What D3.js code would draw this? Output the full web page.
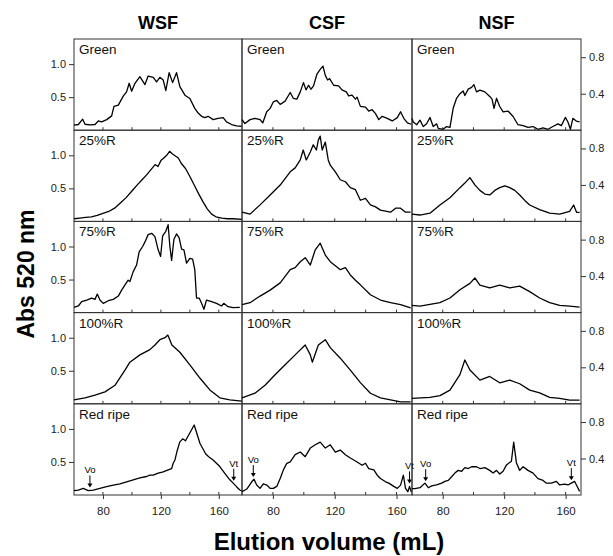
<!DOCTYPE html>
<html><head><meta charset="utf-8">
<script src="https://cdn.jsdelivr.net/npm/d3@7"></script>
<style>
body{margin:0;background:#fff;}
svg{font-family:"Liberation Sans",Arial,Helvetica,sans-serif;}
</style></head><body>
<svg id="chart" width="613" height="556"></svg>
<script>
// fractions (columns) and ripening stages (rows)
const fractions = ["WSF", "CSF", "NSF"];
const stages = ["Green", "25%R", "75%R", "100%R", "Red ripe"];
const leftTicks = [0.5, 1.0];
const rightTicks = [0.4, 0.8];
const volumeTicks = [80, 120, 160];
const minorTicks = [80, 100, 120, 140, 160];

// [elution volume mL, Abs 520]
const wsfGreen = [[60,0.076],[63,0.086],[66,0.167],[67.6,0.09],[71,0.08],[74.5,0.086],[76.8,0.14],[79.1,0.126],[82.6,0.16],[86,0.217],[87.6,0.36],[90.6,0.38],[94,0.515],[96.3,0.58],[98.1,0.71],[99.8,0.59],[102.1,0.71],[105.5,0.81],[109,0.69],[111.2,0.82],[114.7,0.8],[117,0.73],[119.3,0.8],[121.6,0.76],[123.4,0.6],[125.7,0.87],[128.1,0.72],[130.8,0.87],[133.1,0.66],[136.6,0.53],[140,0.48],[143.4,0.33],[145.7,0.26],[148.1,0.21],[150.3,0.19],[152.6,0.21],[156.1,0.16],[159.5,0.18],[163,0.19],[165.3,0.126],[168.8,0.086],[172.2,0.065],[175.7,0.06]];
const wsf25 = [[60,0.04],[64,0.05],[68,0.06],[72,0.07],[76,0.09],[80,0.12],[84,0.15],[88,0.2],[92,0.28],[96,0.36],[100,0.46],[104,0.56],[107,0.63],[110,0.7],[113,0.78],[116,0.86],[118,0.83],[120,0.92],[122,0.96],[124,1.0],[126,1.06],[128,1.02],[130,0.99],[132,0.96],[134,0.88],[137,0.8],[140,0.68],[143,0.55],[146,0.42],[149,0.3],[152,0.19],[155,0.11],[158,0.07],[162,0.05],[166,0.04],[170,0.04],[176,0.03]];
const wsf75 = [[60,0.08],[63,0.1],[65.3,0.165],[68.8,0.19],[72.2,0.22],[74.5,0.2],[76.1,0.28],[77.9,0.19],[80.2,0.14],[83.7,0.18],[87.1,0.2],[90.6,0.25],[92.9,0.34],[95.2,0.42],[97.4,0.49],[98.6,0.47],[100.9,0.62],[103.2,0.72],[105,0.92],[107.4,1.0],[109,1.07],[111.2,1.18],[113.6,1.2],[115.9,1.15],[118.1,0.95],[119.8,0.85],[121.2,1.16],[123.4,1.23],[125,1.33],[126.2,1.0],[127.4,0.79],[129,1.11],[130.8,1.19],[132.6,1.13],[134.3,0.96],[135.9,0.95],[137.7,0.75],[140,0.82],[141.9,0.81],[143.4,0.65],[144.6,0.22],[146.4,0.22],[148.1,0.14],[149.7,0.05],[151.5,0.19],[155,0.165],[158.4,0.14],[161.9,0.1],[163.4,0.14],[166.4,0.09],[169.9,0.075],[174.5,0.08]];
const wsf100 = [[60,0.06],[67.6,0.09],[74.5,0.13],[81.4,0.18],[88.3,0.28],[95.2,0.51],[98.6,0.63],[105.5,0.74],[112.4,0.82],[115.9,0.89],[119.3,0.97],[122.8,1.0],[124.8,1.04],[127.6,0.89],[133.1,0.78],[140,0.59],[146.9,0.39],[153.8,0.21],[160.7,0.09],[167.6,0.06],[175.9,0.04]];
const wsfRed = [[60,0.065],[63,0.075],[66.4,0.1],[69.8,0.065],[73.3,0.075],[77.9,0.1],[82.5,0.126],[87.1,0.15],[91.7,0.167],[96.3,0.2],[100.9,0.23],[105.5,0.26],[110.1,0.28],[112.4,0.3],[114.7,0.3],[118.1,0.33],[121.6,0.35],[125,0.38],[127.4,0.4],[128.5,0.48],[129.7,0.53],[131,0.65],[133,0.8],[135,0.85],[137,0.82],[139,0.9],[141,0.98],[143,1.06],[145,0.92],[147,0.78],[149,0.7],[151,0.62],[153,0.58],[156,0.53],[160.7,0.43],[164,0.33],[167.6,0.23],[169.9,0.18],[172.2,0.126],[174.5,0.076],[176,0.06]];

const csfGreen = [[60,0.16],[61.9,0.1],[65.2,0.16],[68.4,0.18],[71.7,0.16],[73.4,0.11],[76,0.28],[78.2,0.33],[80.3,0.43],[82.5,0.45],[84.7,0.39],[87.9,0.44],[91.2,0.57],[93.3,0.48],[95.5,0.47],[97.7,0.58],[99.8,0.72],[101.4,0.61],[103.1,0.68],[104.6,0.62],[106.3,0.67],[108.5,0.85],[110.6,0.92],[112.4,0.97],[113.9,0.83],[115.4,0.76],[116.7,0.78],[119.3,0.68],[122.5,0.67],[124.7,0.61],[127.5,0.58],[129,0.52],[131.2,0.53],[133.4,0.47],[134.5,0.5],[136.6,0.36],[139.9,0.35],[142,0.29],[144.2,0.31],[146.4,0.25],[148.5,0.16],[150.7,0.21],[154,0.18],[157.2,0.14],[160.5,0.19],[162.6,0.28],[164.7,0.18],[167,0.11],[169.5,0.09]];
const csf25 = [[60,0.14],[65.2,0.11],[71.7,0.25],[78.2,0.4],[84.7,0.55],[91.2,0.75],[94.4,0.81],[97.7,0.93],[99.6,1.08],[101.6,0.93],[104.2,1.05],[106.1,1.16],[108.1,1.08],[109.4,1.23],[110.6,1.29],[111.9,1.08],[113.9,1.2],[115.8,0.93],[117.1,0.85],[120.4,0.75],[123.6,0.63],[126.9,0.6],[130.1,0.51],[133.4,0.48],[136.6,0.32],[139.9,0.35],[143.1,0.25],[146.4,0.22],[149.6,0.17],[156.1,0.14],[159.4,0.2],[162.6,0.2],[165.8,0.14],[169.1,0.14]];
const csf75 = [[60,0.12],[65.2,0.15],[71.7,0.25],[78.2,0.34],[84.7,0.45],[91.2,0.65],[94.4,0.68],[97.7,0.77],[100.9,0.83],[104.2,0.72],[107.4,0.95],[110.6,1.05],[113.9,0.87],[117.1,0.77],[120.4,0.71],[123.6,0.65],[126.9,0.68],[130.1,0.57],[133.4,0.49],[136.6,0.42],[143.1,0.27],[149.6,0.19],[156.1,0.15],[162.6,0.12],[169.1,0.07]];
const csf100 = [[60,0.09],[68.4,0.16],[74.9,0.28],[81.4,0.44],[87.9,0.59],[94.4,0.74],[100.9,0.89],[104.2,0.74],[105.5,0.63],[109.4,0.89],[113.9,0.97],[117.1,0.85],[123.6,0.69],[130.1,0.51],[136.6,0.32],[143.1,0.16],[149.6,0.09],[156.1,0.06],[162.6,0.03],[169.1,0.03]];
const csfRed = [[60,0.05],[63.1,0.09],[66.3,0.2],[67.8,0.24],[69.5,0.15],[71.7,0.1],[73.8,0.17],[76,0.15],[78.2,0.1],[80.3,0.1],[82.5,0.13],[84.7,0.25],[86.8,0.38],[89,0.48],[91.2,0.5],[94.4,0.61],[97.7,0.65],[100.9,0.58],[104.2,0.71],[107.4,0.76],[110.6,0.8],[113.9,0.71],[117.1,0.76],[120.4,0.65],[123.6,0.68],[126.9,0.61],[130.1,0.56],[134.5,0.5],[137.7,0.45],[139.9,0.48],[142,0.4],[145.3,0.38],[147.5,0.3],[149.6,0.25],[152.9,0.2],[155,0.18],[158.2,0.13],[160.5,0.1],[162.6,0.15],[164.4,0.3],[165.8,0.1],[167.3,0.05],[168.4,0.13],[169.5,0.05]];

const nsfGreen = [[60,0.13],[60.8,0.09],[63.1,0.06],[65.2,0.11],[67.3,0.04],[69.5,0.07],[71.7,0.14],[73.8,0.04],[76,0.07],[77.1,0.02],[80.3,0.01],[82.5,0.04],[84.7,0.03],[86.8,0.24],[89,0.35],[91.2,0.4],[93.3,0.43],[94.4,0.38],[96.6,0.45],[98.8,0.47],[100.3,0.5],[102,0.42],[104.2,0.44],[107.4,0.42],[110.6,0.37],[112.1,0.34],[113.4,0.24],[115,0.35],[117.1,0.26],[119.3,0.2],[122.5,0.21],[125.8,0.15],[129,0.06],[132.3,0.05],[135.5,0.03],[138.8,0.04],[142,0.01],[145.3,0.025],[148.5,0.01],[151.7,0.04],[155,0.07],[157.2,0.05],[159.8,0.14],[161.5,0.09],[163.1,0.01],[164.7,0.13],[166.9,0.1],[169.1,0.09]];
const nsf25 = [[60,0.08],[65.2,0.07],[71.7,0.09],[78.2,0.18],[84.7,0.26],[91.2,0.37],[94.4,0.42],[97.7,0.48],[100.9,0.4],[104.2,0.34],[107.4,0.3],[110.6,0.29],[113.9,0.34],[117.1,0.37],[120.4,0.39],[123.6,0.37],[126.9,0.34],[130.1,0.29],[133.4,0.23],[136.6,0.18],[143.1,0.13],[149.6,0.09],[156.1,0.08],[162.6,0.11],[165.2,0.18],[167.1,0.1],[169.1,0.1]];
const nsf75 = [[60,0.08],[65.2,0.07],[71.7,0.09],[78.2,0.11],[84.7,0.16],[91.2,0.25],[97.7,0.32],[100.9,0.38],[104.2,0.3],[110.6,0.27],[117.1,0.3],[123.6,0.27],[130.1,0.29],[136.6,0.23],[143.1,0.16],[149.6,0.11],[156.1,0.08],[162.6,0.07],[169.1,0.06]];
const nsf100 = [[60,0.06],[71.7,0.07],[78.2,0.09],[84.7,0.15],[91.2,0.32],[94.4,0.48],[97.7,0.37],[104.2,0.26],[110.6,0.3],[117.1,0.23],[123.6,0.26],[130.1,0.22],[136.6,0.15],[143.1,0.12],[149.6,0.07],[156.1,0.06],[162.6,0.04],[169.1,0.04]];
const nsfRed = [[60,0.07],[61.9,0.07],[65.2,0.08],[68.4,0.13],[70.6,0.08],[72.8,0.1],[76,0.11],[79.3,0.13],[81.4,0.15],[83.6,0.16],[85.8,0.2],[87.9,0.24],[90.1,0.27],[92.3,0.26],[94.4,0.3],[96.6,0.29],[98.8,0.31],[102,0.31],[104.2,0.29],[107.4,0.3],[110.6,0.27],[112.8,0.24],[115,0.27],[117.1,0.23],[119.3,0.26],[121.5,0.33],[124.7,0.37],[126.2,0.58],[128,0.35],[130.1,0.27],[132.3,0.31],[135.5,0.27],[138.8,0.24],[142,0.18],[145.3,0.16],[147.5,0.13],[150.7,0.13],[154,0.15],[156.1,0.11],[159.4,0.12],[161.5,0.11],[163.7,0.13],[165.8,0.15],[167.6,0.09],[169.1,0.04]];

// void (Vo) and total (Vt) volume markers per fraction
const voMarks = [71, 67.3, 68.9];
const vtMarks = [170.3, 168.4, 163.7];

const series = [
  [wsfGreen, wsf25, wsf75, wsf100, wsfRed],
  [csfGreen, csf25, csf75, csf100, csfRed],
  [nsfGreen, nsf25, nsf75, nsf100, nsfRed]
];

const svg = d3.select("#chart");
const top0 = 39, rowH = 91.2, bottom = top0 + rowH * 5;
const cols = [
  { left: 74, right: 242, domain: [60, 176], ymax: 1.38 },
  { left: 242, right: 412, domain: [60, 170], ymax: 1.38 },
  { left: 412, right: 581, domain: [60, 170], ymax: 1.0 }
];

const lineColor = "#333";

cols.forEach((c, ci) => {
  const x = d3.scaleLinear().domain(c.domain).range([c.left, c.right]);
  stages.forEach((st, ri) => {
    const y0 = top0 + ri * rowH;
    const y = d3.scaleLinear().domain([0, c.ymax]).range([y0 + rowH, y0]);
    const g = svg.append("g");

    g.append("rect")
      .attr("x", c.left).attr("y", y0)
      .attr("width", c.right - c.left).attr("height", rowH)
      .attr("fill", "none").attr("stroke", lineColor).attr("stroke-width", 1);

    // small inner ticks on each panel's bottom edge
    g.selectAll(".mt").data(minorTicks).enter().append("line")
      .attr("x1", d => x(d)).attr("x2", d => x(d))
      .attr("y1", y0 + rowH).attr("y2", y0 + rowH - 3)
      .attr("stroke", lineColor);

    const data = series[ci][ri];
    const line = d3.line().x(d => x(d[0])).y(d => y(d[1]));
    g.append("path").datum(data)
      .attr("d", line)
      .attr("fill", "none").attr("stroke", "#000")
      .attr("stroke-width", 1.3).attr("stroke-linejoin", "round");

    g.append("text")
      .attr("x", c.left + 5).attr("y", y0 + 15)
      .attr("font-size", 13.5).attr("fill", "#111")
      .text(st);

    if (ci === 0) {
      const ax = svg.append("g").attr("transform", `translate(${c.left},0)`)
        .call(d3.axisLeft(y).tickValues(leftTicks).tickSize(5).tickFormat(d3.format(".1f")));
      ax.select(".domain").remove();
      ax.selectAll("text").attr("font-size", 11).attr("font-family", null).attr("fill", "#222");
      ax.selectAll("line").attr("stroke", lineColor);
    }
    if (ci === 2) {
      const ax = svg.append("g").attr("transform", `translate(${c.right},0)`)
        .call(d3.axisRight(y).tickValues(rightTicks).tickSize(5).tickFormat(d3.format(".1f")));
      ax.select(".domain").remove();
      ax.selectAll("text").attr("font-size", 11).attr("font-family", null).attr("fill", "#222");
      ax.selectAll("line").attr("stroke", lineColor);
    }

    if (ri === stages.length - 1) {
      const interp = v => {
        const i = d3.bisector(d => d[0]).left(data, v);
        const a = data[Math.max(0, i - 1)], b = data[Math.min(data.length - 1, i)];
        const t = b[0] === a[0] ? 0 : (v - a[0]) / (b[0] - a[0]);
        return a[1] + (b[1] - a[1]) * t;
      };
      [["Vo", voMarks[ci]], ["Vt", vtMarks[ci]]].forEach(([lab, v]) => {
        const px = x(v), tip = y(interp(v)) - 3;
        g.append("line").attr("x1", px).attr("x2", px)
          .attr("y1", tip - 12).attr("y2", tip - 3)
          .attr("stroke", "#000").attr("stroke-width", 1);
        g.append("path")
          .attr("d", `M${px - 2.5},${tip - 4}L${px + 2.5},${tip - 4}L${px},${tip}Z`)
          .attr("fill", "#000");
        g.append("text").attr("x", px).attr("y", tip - 14)
          .attr("text-anchor", "middle").attr("font-size", 9.5).text(lab);
      });

      const bx = svg.append("g").attr("transform", `translate(0,${bottom})`)
        .call(d3.axisBottom(x).tickValues(volumeTicks).tickSize(4));
      bx.select(".domain").remove();
      bx.selectAll("text").attr("font-size", 11.5).attr("font-family", null).attr("fill", "#222").attr("dy", "1.1em");
      bx.selectAll("line").attr("stroke", lineColor);
    }
  });

  svg.append("text")
    .attr("x", (c.left + c.right) / 2).attr("y", 29)
    .attr("text-anchor", "middle").attr("font-size", 18).attr("font-weight", "bold")
    .text(fractions[ci]);
});

svg.append("text")
  .attr("transform", "translate(34,274) rotate(-90)")
  .attr("text-anchor", "middle").attr("font-size", 23).attr("font-weight", "bold")
  .text("Abs 520 nm");

svg.append("text")
  .attr("x", 329).attr("y", 550)
  .attr("text-anchor", "middle").attr("font-size", 24).attr("font-weight", "bold")
  .text("Elution volume (mL)");
</script>
</body></html>
